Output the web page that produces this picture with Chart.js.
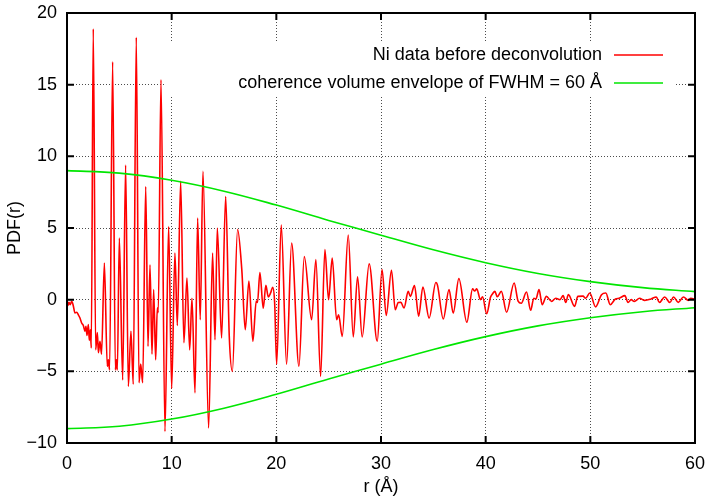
<!DOCTYPE html>
<html>
<head>
<meta charset="utf-8">
<script src="https://cdn.jsdelivr.net/npm/chart.js@4/dist/chart.umd.min.js"></script>
<style>
  html, body { margin: 0; padding: 0; background: #fff; }
  #chart { display: block; }
</style>
</head>
<body>
<canvas id="chart" width="709" height="498"></canvas>
<script>
// PDF of Ni (r in Å)
const rValues = [
  0.0, 0.1, 0.19, 0.3, 0.45, 0.6, 0.76, 0.93, 1.08, 1.24, 1.4, 1.56, 1.72, 1.81, 1.91, 2.04, 2.13, 2.23, 2.32,
  2.51, 2.74, 2.9, 3.0, 3.15, 3.3, 3.57, 3.85, 3.95, 4.07, 4.36, 4.62, 4.72, 4.81, 5.0, 5.32, 5.6, 5.86,
  6.11, 6.33, 6.62, 6.88, 7.04, 7.23, 7.52, 7.74, 7.93, 8.12, 8.28, 8.47, 8.63, 8.72, 8.98, 9.36, 9.71,
  10.0, 10.31, 10.54, 10.86, 11.17, 11.46, 11.72, 11.94, 12.23, 12.48, 12.73, 12.99, 13.53, 13.91, 14.14,
  14.36, 14.77, 15.16, 15.5, 15.8, 16.3, 16.7, 17.03, 17.38, 17.76, 18.08, 18.2, 18.43, 18.75, 19.0, 19.23,
  19.45, 19.65, 19.84, 20.03, 20.47, 20.98, 21.46, 22.16, 22.67, 23.37, 23.78, 24.23, 24.64, 24.99, 25.34,
  25.76, 25.95, 26.3, 26.87, 27.35, 27.76, 28.2, 28.87, 29.64, 30.1, 30.5, 31.0, 31.36, 31.65, 31.9, 32.2,
  32.6, 32.8, 33.2, 33.6, 34.0, 34.6, 35.24, 35.4, 35.95, 36.5, 36.9, 37.44, 38.2, 38.75, 38.95, 39.15,
  39.5, 39.7, 40.1, 40.46, 40.65, 40.88, 41.1, 41.5, 42.0, 42.72, 43.1, 43.4, 43.9, 44.3, 44.6, 44.8,
  45.1, 45.4, 45.8, 46.3, 46.7, 47.1, 47.4, 47.65, 47.9, 48.5, 48.8, 49.3, 49.55, 49.95, 50.5, 51.07,
  51.48, 51.9, 52.4, 52.75, 53.3, 53.6, 53.9, 54.2, 54.7, 55.2, 55.8, 56.3, 56.6, 57.1, 57.6, 57.95,
  58.4, 58.9, 59.35, 59.6, 60.0
];
const pdfValues = [
  0.0, -0.4, -0.19, -0.35, -0.12, -0.42, -0.93, -0.88, -1.05, -1.28, -1.63, -1.8, -2.2, -1.86, -2.5, -1.74, -2.84, -2.1, -3.37,
  18.9, -3.5, -2.3, -3.7, -2.9, -3.8, 2.56, -4.65, -4.2, -4.9, 16.6, -4.9, -4.2, -4.9, 4.3, -5.6, 9.4, -6.05,
  -2.2, -5.9, 18.3, -5.8, -4.5, -5.8, 7.9, -3.26, 2.44, -3.8, 0.7, -4.2, -0.56, -0.9, 15.35, -9.2, 5.1,
  -6.2, 3.26, -1.8, 8.26, -3.0, 1.5, -3.5, 0.1, -6.5, 5.7, -1.4, 8.95, -8.95, 3.26, -2.8,
  5.0, -2.67, 7.2, -2.5, -5.0, 4.9, 2.1, -2.1, 1.3, -2.9, -0.1, -0.2, 1.9, -0.6, 1.0, 0.19,
  0.47, 0.86, -0.23, -4.5, 5.2, -4.5, 3.95, -4.65, 3.0, -1.4, 2.8, -5.35, 3.5, 0.0, 2.9,
  -1.4, -1.05, -2.56, 4.5, -2.6, 1.6, -2.6, 2.5, -2.9, 2.1, -1.1, 2.05, -0.7, -0.2, -0.19, -0.58,
  0.58, 0.23, 0.98, -1.16, 0.88, -1.28, 1.2, 1.0, -1.35, 0.7, -0.93, 1.47, -1.58, 0.75, 0.6, 0.75,
  0.0, 0.2, -0.98, 0.16, 0.4, 0.58, 0.2, 0.58, -0.88, 1.16, -0.1, -0.25, 0.53, -0.74, 0.1, 0.05,
  0.7, -0.35, 0.23, -0.12, 0.1, 0.0, 0.28, -0.2, 0.35, -0.47, 0.23, 0.25, 0.1, 0.47, -0.5, 0.35,
  0.47, -0.35, 0.05, 0.1, 0.28, -0.2, 0.0, -0.12, 0.1, -0.05, 0.05, 0.19, -0.2, 0.19, -0.2, 0.19,
  -0.19, 0.19, -0.05, 0.1, 0.0
];

// coherence envelope
const envR = [0, 5, 10, 15, 20, 25, 30, 35, 40, 45, 50, 55, 60];
const envUpper = [9.0, 8.83, 8.33, 7.57, 6.6, 5.53, 4.5, 3.48, 2.58, 1.83, 1.26, 0.84, 0.56];
const envLower = [-9.0, -8.83, -8.33, -7.57, -6.6, -5.53, -4.5, -3.48, -2.58, -1.83, -1.26, -0.84, -0.56];

const xTicks = [0, 10, 20, 30, 40, 50, 60];
const yTicks = [-10, -5, 0, 5, 10, 15, 20];

const seriesLabels = ["Ni data before deconvolution", "coherence volume envelope of FWHM = 60 Å"];
const RED = "#ff0000";
const GREEN = "#00e600";
const FONT = "'Liberation Sans', Arial, Helvetica, sans-serif";

const toPoints = (xs, ys) => xs.map((x, i) => ({ x: x, y: ys[i] }));

// gnuplot look: opaque key box, inward ticks on all sides, frame, key
const gnuplotFrame = {
  id: "gnuplotFrame",
  beforeDatasetsDraw(chart) {
    const ctx = chart.ctx;
    ctx.save();
    ctx.fillStyle = "#fff";
    ctx.fillRect(166, 42, 509, 55);
    ctx.restore();
  },
  afterDraw(chart) {
    const ctx = chart.ctx;
    const a = chart.chartArea;
    const xs = chart.scales.x, ys = chart.scales.y;
    ctx.save();
    ctx.strokeStyle = "#000";
    ctx.lineWidth = 2;
    ctx.beginPath();
    xTicks.forEach(v => {
      const px = xs.getPixelForValue(v);
      ctx.moveTo(px, a.bottom); ctx.lineTo(px, a.bottom - 7);
      ctx.moveTo(px, a.top); ctx.lineTo(px, a.top + 7);
    });
    yTicks.forEach(v => {
      const py = ys.getPixelForValue(v);
      ctx.moveTo(a.left, py); ctx.lineTo(a.left + 7, py);
      ctx.moveTo(a.right, py); ctx.lineTo(a.right - 7, py);
    });
    ctx.stroke();
    ctx.strokeRect(a.left, a.top, a.right - a.left, a.bottom - a.top);

    // key
    ctx.font = "18px " + FONT;
    ctx.fillStyle = "#000";
    ctx.textAlign = "right";
    ctx.textBaseline = "middle";
    const rows = [[seriesLabels[0], RED, 55], [seriesLabels[1], GREEN, 83]];
    rows.forEach(row => {
      ctx.fillText(row[0], 602, row[2]);
    });
    rows.forEach(row => {
      ctx.beginPath();
      ctx.strokeStyle = row[1];
      ctx.lineWidth = 1.6;
      ctx.moveTo(614, row[2]);
      ctx.lineTo(663, row[2]);
      ctx.stroke();
    });
    ctx.restore();
  }
};

const gridOpts = { color: "rgba(0,0,0,0.7)", lineWidth: 1, drawTicks: false };

new Chart(document.getElementById("chart"), {
  type: "line",
  data: {
    datasets: [
      {
        label: seriesLabels[0],
        data: toPoints(rValues, pdfValues),
        borderColor: RED,
        borderWidth: 1.6,
        pointRadius: 0,
        cubicInterpolationMode: "monotone",
        order: 2
      },
      {
        label: seriesLabels[1],
        data: toPoints(envR, envUpper),
        borderColor: GREEN,
        borderWidth: 1.6,
        pointRadius: 0,
        tension: 0.4,
        order: 1
      },
      {
        label: "",
        data: toPoints(envR, envLower),
        borderColor: GREEN,
        borderWidth: 1.6,
        pointRadius: 0,
        tension: 0.4,
        order: 1
      }
    ]
  },
  options: {
    responsive: false,
    animation: false,
    events: [],
    layout: { padding: { left: 0, right: 14, top: 13, bottom: 0 } },
    plugins: {
      legend: { display: false },
      tooltip: { enabled: false }
    },
    scales: {
      x: {
        type: "linear",
        min: 0,
        max: 60,
        afterBuildTicks: s => { s.ticks = xTicks.map(v => ({ value: v })); },
        afterFit: s => { s.height = 55; s.paddingLeft = 0; s.paddingRight = 0; },
        border: { display: false, dash: [1, 2] },
        grid: gridOpts,
        ticks: { color: "#000", padding: 10, font: { family: FONT, size: 18 } },
        title: { display: true, text: "r (Å)", color: "#000", padding: 0, font: { family: FONT, size: 18 } }
      },
      y: {
        min: -10,
        max: 20,
        afterBuildTicks: s => { s.ticks = yTicks.map(v => ({ value: v })); },
        afterFit: s => { s.width = 67; s.paddingTop = 0; s.paddingBottom = 0; },
        border: { display: false, dash: [1, 2] },
        grid: gridOpts,
        ticks: {
          color: "#000",
          padding: 10,
          font: { family: FONT, size: 18 },
          callback: v => (v < 0 ? "\u2212" + Math.abs(v) : String(v))
        },
        title: { display: true, text: "PDF(r)", color: "#000", padding: { top: 4 }, font: { family: FONT, size: 18 } }
      }
    }
  },
  plugins: [gnuplotFrame]
});
</script>
</body>
</html>
